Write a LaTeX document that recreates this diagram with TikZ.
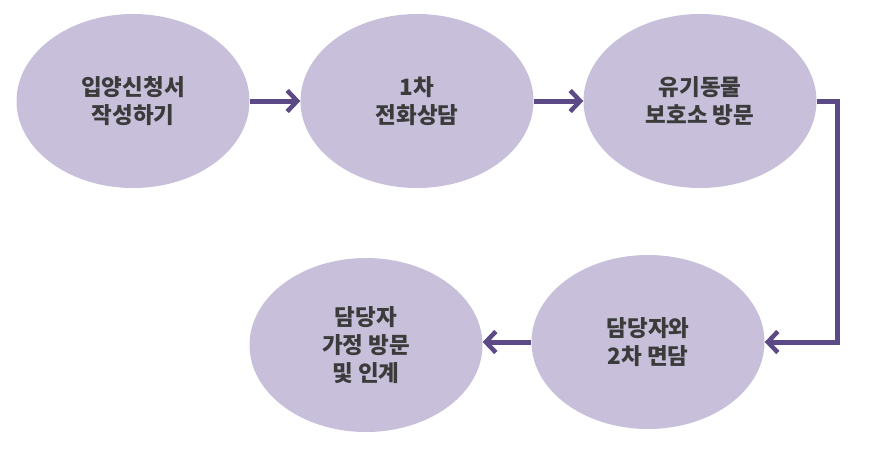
\documentclass[tikz,border=0pt]{standalone}
\usepackage{fontspec}
\newfontfamily\kr{Noto Sans CJK KR}
\usetikzlibrary{arrows.meta}
\usetikzlibrary{shapes.geometric}
\definecolor{lav}{HTML}{C8C0DA}
\definecolor{plum}{HTML}{5B4A86}
\definecolor{ink}{HTML}{3B3B3B}

\begin{document}
\begin{tikzpicture}[x=1pt,y=-1pt,
  stepnode/.style={ellipse,fill=lav,minimum width=233pt,minimum height=174pt,inner sep=0pt,
    align=center,text=ink,font=\kr\bfseries\fontsize{22.5}{28}\selectfont},
  flow/.style={plum,line width=5pt,-{Straight Barb[length=10pt,width=21pt,line width=4.5pt]}}]
\useasboundingbox (0,0) rectangle (873,448);
\node[stepnode] (a) at (133,101) {입양신청서\\작성하기};
\node[stepnode] (b) at (417,101) {1차\\전화상담};
\node[stepnode] (c) at (700,101) {유기동물\\보호소 방문};
\node[stepnode] (d) at (648,342) {담당자와\\2차 면담};
\node[stepnode] (e) at (366,345) {담당자\\가정 방문\\및 인계};
\draw[flow] (a.east) -- (b.west);
\draw[flow] (b.east) -- (c.west);
\draw[flow] (c.east) -- (837,101) |- (d.east); % down the right side
\draw[flow] (d.west) -- (e.east|-d.west);
\end{tikzpicture}
\end{document}
